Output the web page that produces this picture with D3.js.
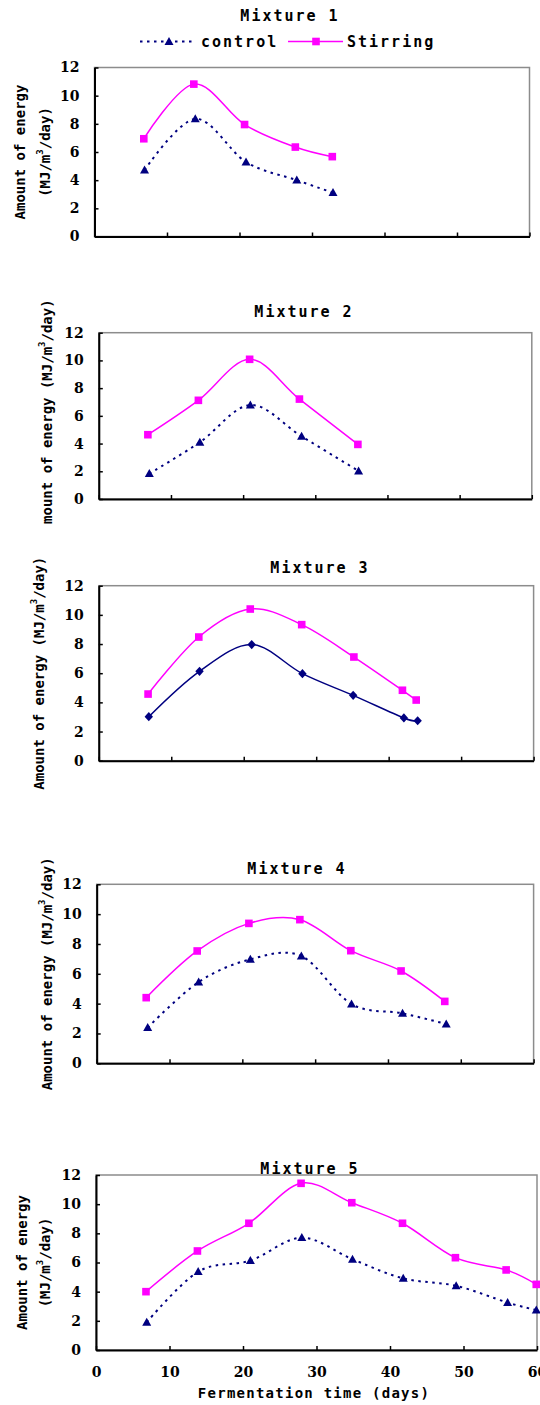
<!DOCTYPE html>
<html lang="en">
<head>
<meta charset="UTF-8">
<title>Energy production of mixtures</title>
<script src="https://d3js.org/d3.v7.min.js"></script>
<style>
    body { margin: 0; background: #fff; }
    text {
        font-family: "DejaVu Sans Mono", monospace;
        font-weight: bold;
        fill: #000;
    }
    .tick text {
        font-family: "DejaVu Serif", serif;
        font-size: 14px;
    }
</style>
</head>
<body>
<script>
    // Fermentation days and amount of energy (MJ/m3/day)
    const m1StirDays = [6.8, 13.7, 20.7, 27.7, 32.8];
    const m1Stir     = [6.94, 10.82, 7.95, 6.35, 5.67];
    const m1CtrlDays = [6.9, 13.9, 20.9, 27.9, 32.9];
    const m1Ctrl     = [4.71, 8.35, 5.29, 4.0, 3.11];

    const m2StirDays = [6.8, 13.8, 20.9, 27.8, 35.9];
    const m2Stir     = [4.64, 7.12, 10.08, 7.21, 3.94];
    const m2CtrlDays = [7.0, 14.0, 21.0, 28.1, 36.0];
    const m2Ctrl     = [1.83, 4.09, 6.78, 4.52, 2.02];

    const m3StirDays = [6.8, 13.8, 20.9, 28.0, 35.2, 41.9, 43.8];
    const m3Stir     = [4.57, 8.48, 10.4, 9.33, 7.11, 4.83, 4.16];
    const m3CtrlDays = [6.9, 13.9, 21.1, 28.1, 35.1, 42.1, 44.0];
    const m3Ctrl     = [3.02, 6.13, 7.96, 5.97, 4.48, 2.93, 2.74];

    const m4StirDays = [6.8, 13.8, 20.9, 27.9, 34.9, 41.8, 47.8];
    const m4Stir     = [4.40, 7.53, 9.38, 9.63, 7.55, 6.19, 4.15];
    const m4CtrlDays = [7.0, 14.0, 21.1, 28.1, 35.0, 42.0, 48.0];
    const m4Ctrl     = [2.39, 5.45, 6.97, 7.19, 3.97, 3.35, 2.63];

    const m5StirDays = [6.8, 13.8, 20.8, 27.9, 34.8, 41.7, 48.9, 55.8, 59.9];
    const m5Stir     = [4.0, 6.79, 8.69, 11.43, 10.1, 8.69, 6.33, 5.49, 4.5];
    const m5CtrlDays = [6.9, 13.9, 21.0, 28.0, 34.9, 41.8, 49.0, 56.0, 59.9];
    const m5Ctrl     = [1.9, 5.37, 6.13, 7.70, 6.22, 4.91, 4.40, 3.25, 2.74];

    const titles = ["Mixture 1", "Mixture 2", "Mixture 3", "Mixture 4", "Mixture 5"];
    const seriesNames = ["control", "Stirring"];
    const xTicks = [0, 10, 20, 30, 40, 50, 60];
    const yTicks = [0, 2, 4, 6, 8, 10, 12];

    const series = [
        { stirDays: m1StirDays, stir: m1Stir, ctrlDays: m1CtrlDays, ctrl: m1Ctrl },
        { stirDays: m2StirDays, stir: m2Stir, ctrlDays: m2CtrlDays, ctrl: m2Ctrl },
        { stirDays: m3StirDays, stir: m3Stir, ctrlDays: m3CtrlDays, ctrl: m3Ctrl },
        { stirDays: m4StirDays, stir: m4Stir, ctrlDays: m4CtrlDays, ctrl: m4Ctrl },
        { stirDays: m5StirDays, stir: m5Stir, ctrlDays: m5CtrlDays, ctrl: m5Ctrl }
    ];

    // where each of the five pasted charts sits on the page
    const layout = [
        { left: 94.5, right: 529.5, top: 67.5, bottom: 236.5, titleX: 290, titleY: 20.7,
          labelX: [20, 44.5], twoLines: true },
        { left: 98.8, right: 531.8, top: 332.7, bottom: 499, titleX: 304, titleY: 317,
          labelX: [47], clip: [0, 280, 96, 244] },
        { left: 98.8, right: 533.6, top: 585.7, bottom: 760.7, titleX: 320, titleY: 573,
          labelX: [38.7], solidControl: true },
        { left: 96.7, right: 533.6, top: 884.3, bottom: 1063.3, titleX: 297, titleY: 874,
          labelX: [47.3] },
        { left: 96, right: 537, top: 1175, bottom: 1350, titleX: 310, titleY: 1174,
          labelX: [21.5, 44.7], twoLines: true, xLabels: true }
    ];

    const width = 540;
    const height = 1405;
    const stirColor = "#ff00ff";
    const ctrlColor = "#000080";

    const triangle = "M0,-4.6L4.5,3.4L-4.5,3.4Z";
    const diamond = "M0,-4.6L4.2,0L0,4.6L-4.2,0Z";

    const svg = d3.select("body")
        .append("svg")
        .attr("width", width)
        .attr("height", height);

    const defs = svg.append("defs");

    const line = d3.line().curve(d3.curveCardinal.tension(0));

    layout.forEach((p, i) => {
        const s = series[i];
        const x = d3.scaleLinear().domain([0, 60]).range([p.left, p.right]);
        const y = d3.scaleLinear().domain([0, 12]).range([p.bottom, p.top]);
        const g = svg.append("g");

        // grey plot-area border
        g.append("rect")
            .attr("x", p.left)
            .attr("y", p.top)
            .attr("width", p.right - p.left)
            .attr("height", p.bottom - p.top)
            .attr("fill", "none")
            .attr("stroke", "#8c8c8c")
            .attr("stroke-width", 1.5);

        // axes, ticks pointing inward
        const yAxis = d3.axisLeft(y).tickValues(yTicks).tickSize(-4).tickSizeOuter(0).tickPadding(15);
        const yg = g.append("g").attr("transform", `translate(${p.left},0)`).call(yAxis);

        const xAxis = d3.axisBottom(x).tickValues(xTicks).tickSize(-4).tickSizeOuter(0).tickPadding(17);
        if (!p.xLabels) xAxis.tickFormat("");
        const xg = g.append("g").attr("transform", `translate(0,${p.bottom})`).call(xAxis);

        [yg, xg].forEach(a => {
            a.select(".domain").attr("stroke", "#000").attr("stroke-width", 2);
            a.selectAll(".tick line").attr("stroke", "#000").attr("stroke-width", 1.5);
            a.selectAll(".tick text").attr("fill", "#000");
        });

        // title
        g.append("text")
            .attr("x", p.titleX)
            .attr("y", p.titleY)
            .attr("text-anchor", "middle")
            .style("font-size", "15px")
            .style("letter-spacing", "2px")
            .text(titles[i]);

        // y axis title
        let lg = g.append("g");
        if (p.clip) {
            defs.append("clipPath").attr("id", "clip" + i)
                .append("rect")
                .attr("x", p.clip[0]).attr("y", p.clip[1])
                .attr("width", p.clip[2]).attr("height", p.clip[3]);
            lg.attr("clip-path", `url(#clip${i})`);
        }
        const yc = (p.top + p.bottom) / 2;
        const lines = p.twoLines
            ? [["Amount of energy"], ["(MJ/m", "3", "/day)"]]
            : [["Amount of energy (MJ/m", "3", "/day)"]];
        lines.forEach((parts, j) => {
            const t = lg.append("text")
                .attr("transform", `translate(${p.labelX[j]},${yc}) rotate(-90)`)
                .attr("text-anchor", "middle")
                .attr("dominant-baseline", "central")
                .style("font-size", "14px");
            parts.forEach((part, k) => {
                const ts = t.append("tspan").text(part);
                if (k === 1) ts.attr("dy", -5).style("font-size", "9px");
                if (k === 2) ts.attr("dy", 5);
            });
        });

        // control series
        const ctrlPts = s.ctrlDays.map((d, k) => [x(d), y(s.ctrl[k])]);
        g.append("path")
            .attr("d", line(ctrlPts))
            .attr("fill", "none")
            .attr("stroke", ctrlColor)
            .attr("stroke-width", p.solidControl ? 1.5 : 2)
            .attr("stroke-dasharray", p.solidControl ? null : "2.5,4.5");
        g.selectAll(".ctrl")
            .data(ctrlPts)
            .enter()
            .append("path")
            .attr("transform", d => `translate(${d[0]},${d[1]})`)
            .attr("d", p.solidControl ? diamond : triangle)
            .attr("fill", ctrlColor);

        // stirring series
        const stirPts = s.stirDays.map((d, k) => [x(d), y(s.stir[k])]);
        g.append("path")
            .attr("d", line(stirPts))
            .attr("fill", "none")
            .attr("stroke", stirColor)
            .attr("stroke-width", 1.5);
        g.selectAll(".stir")
            .data(stirPts)
            .enter()
            .append("rect")
            .attr("x", d => d[0] - 3.8)
            .attr("y", d => d[1] - 3.8)
            .attr("width", 7.6)
            .attr("height", 7.6)
            .attr("fill", stirColor);

        if (p.xLabels) {
            g.append("text")
                .attr("x", 314)
                .attr("y", 1398)
                .attr("text-anchor", "middle")
                .style("font-size", "14px")
                .style("letter-spacing", "1.25px")
                .text("Fermentation time (days)");
        }
    });

    // legend, only on the first chart
    const legend = svg.append("g");
    legend.append("line")
        .attr("x1", 140).attr("x2", 195)
        .attr("y1", 41.5).attr("y2", 41.5)
        .attr("stroke", ctrlColor)
        .attr("stroke-width", 2)
        .attr("stroke-dasharray", "2.5,4.5");
    legend.append("path")
        .attr("transform", "translate(169,41.5)")
        .attr("d", triangle)
        .attr("fill", ctrlColor);
    legend.append("line")
        .attr("x1", 288).attr("x2", 343)
        .attr("y1", 41.5).attr("y2", 41.5)
        .attr("stroke", stirColor)
        .attr("stroke-width", 1.5);
    legend.append("rect")
        .attr("x", 316 - 3.8).attr("y", 41.5 - 3.8)
        .attr("width", 7.6).attr("height", 7.6)
        .attr("fill", stirColor);
    legend.selectAll("text")
        .data(seriesNames)
        .enter()
        .append("text")
        .attr("x", (d, k) => k === 0 ? 201 : 347)
        .attr("y", 46.7)
        .style("font-size", "15px")
        .style("letter-spacing", "2px")
        .text(d => d);
</script>
</body>
</html>
